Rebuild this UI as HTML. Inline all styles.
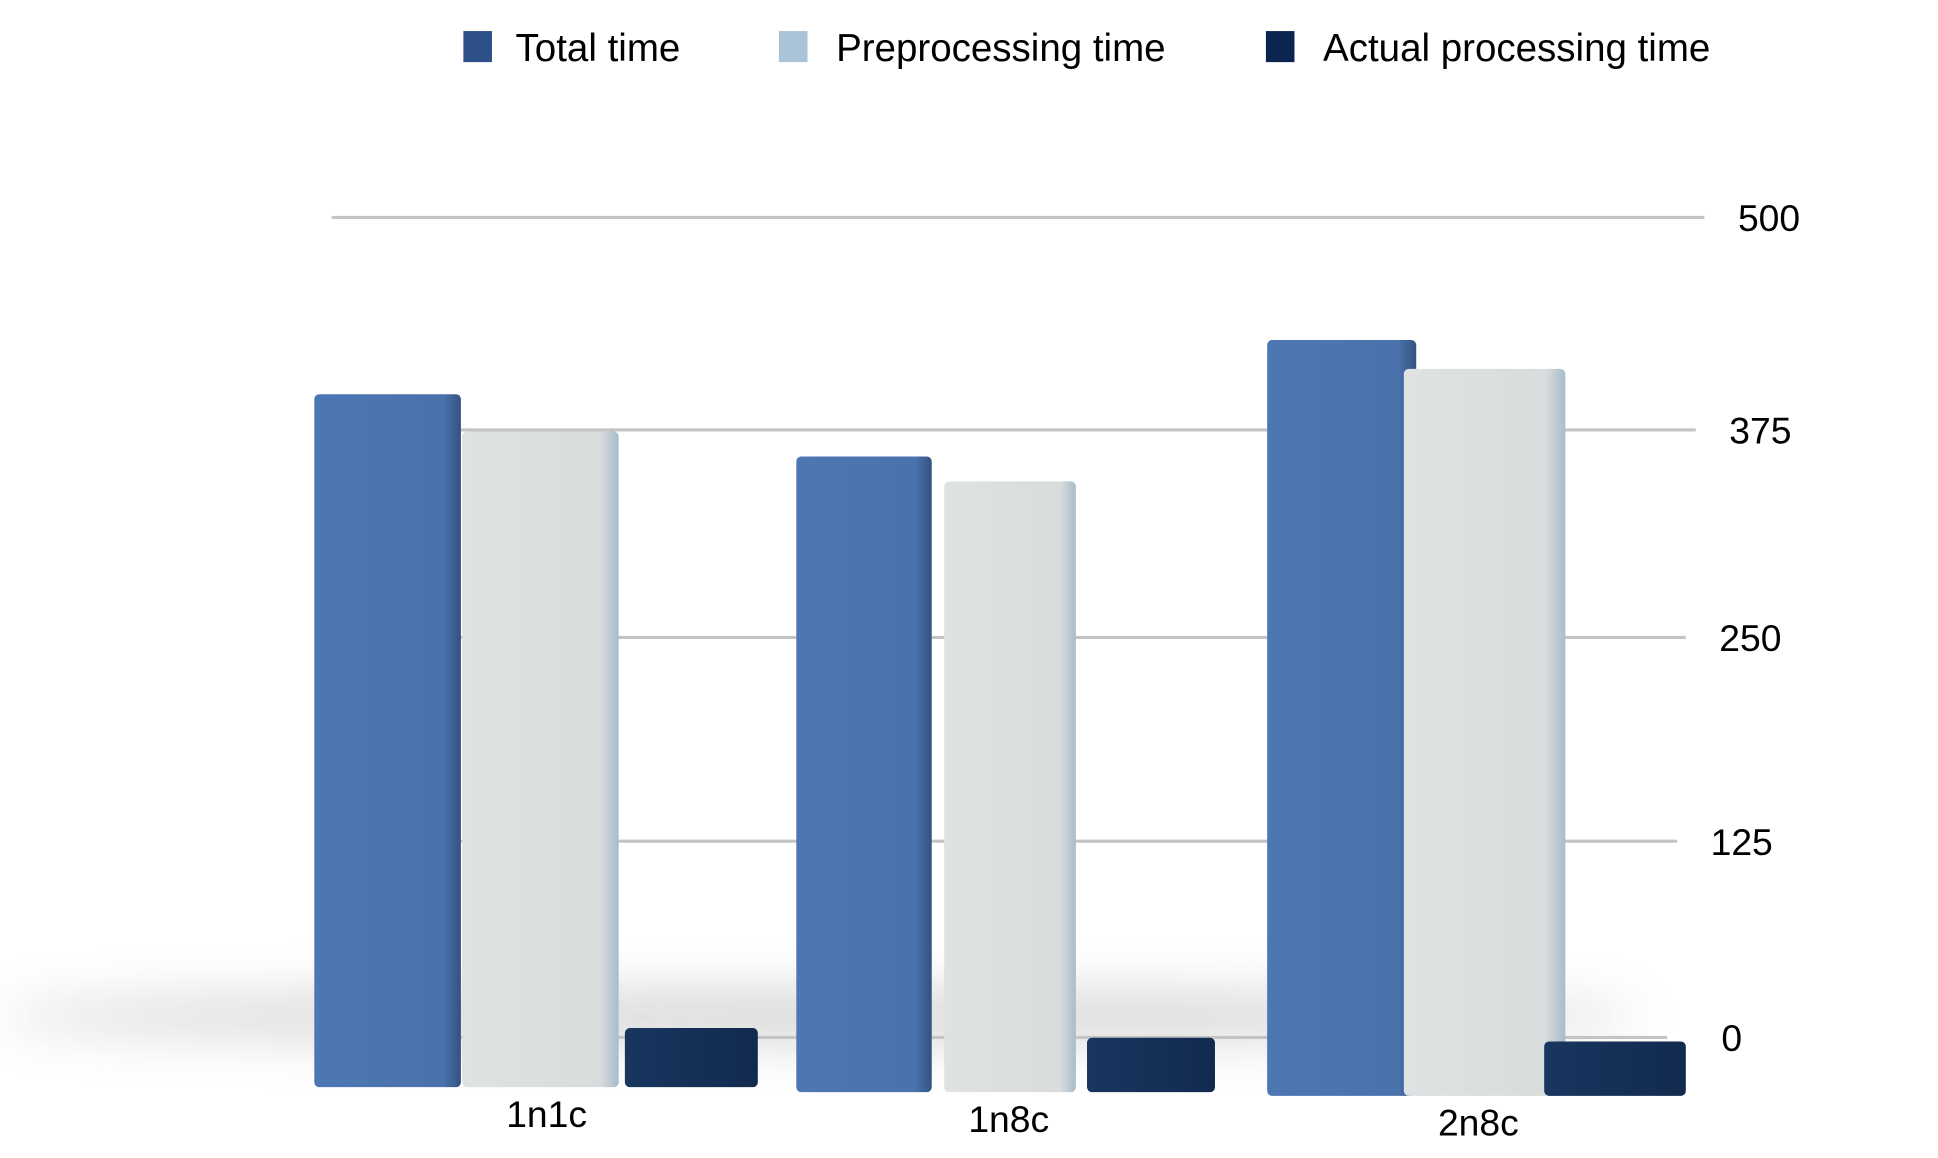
<!DOCTYPE html>
<html><head><meta charset="utf-8"><style>
html,body{margin:0;padding:0;background:#fff;}
svg{display:block;}
text{font-family:"Liberation Sans",Arial,sans-serif;fill:#000;}
</style></head><body>
<svg id="chart" width="1938" height="1158" viewBox="0 0 1560 932" preserveAspectRatio="none" xmlns="http://www.w3.org/2000/svg">
<defs>
<filter id="blur" x="-20%" y="-200%" width="140%" height="500%"><feGaussianBlur stdDeviation="20"/></filter>
<linearGradient id="gTot" x1="0" x2="1"><stop offset="0" stop-color="#4d77b3"/><stop offset="0.88" stop-color="#4a72ad"/><stop offset="1" stop-color="#34527f"/></linearGradient>
<linearGradient id="gPre" x1="0" x2="1"><stop offset="0" stop-color="#dfe2e3"/><stop offset="0.88" stop-color="#d9dcdd"/><stop offset="1" stop-color="#a7bccb"/></linearGradient>
<linearGradient id="gAct" x1="0" x2="1"><stop offset="0" stop-color="#18365f"/><stop offset="1" stop-color="#122a4e"/></linearGradient>
</defs>
<g>
<rect x="373" y="25" width="23" height="25" fill="#2e5088"/>
<text x="415" y="49" font-size="31">Total time</text>
<rect x="627" y="25" width="23" height="25" fill="#a9c3d8"/>
<text x="673" y="49" font-size="31">Preprocessing time</text>
<rect x="1019" y="25" width="23" height="25" fill="#0c2450"/>
<text x="1065" y="49" font-size="31">Actual processing time</text>
</g>
<ellipse cx="660" cy="818" rx="660" ry="22" fill="#aaa" opacity="0.45" filter="url(#blur)"/>
<g id="grid"></g>
<g id="bars"></g>
<g id="xlabels"></g>
</svg>
<script>
const categories = ["1n1c", "1n8c", "2n8c"];
const totalTime = [396, 362, 433];
const preprocessingTime = [374, 347, 416];
const actualTime = [6, 3, 3];
const yTicks = [0, 125, 250, 375, 500];

const NS = "http://www.w3.org/2000/svg";
const vMax = 500;
const tickPix = [835, 677, 513, 346, 175];
function yScale(v){
  const step = vMax / (tickPix.length - 1);
  let i = Math.min(Math.floor(v / step), tickPix.length - 2);
  if (i < 0) i = 0;
  const f = (v - i * step) / step;
  return tickPix[i] + f * (tickPix[i + 1] - tickPix[i]);
}
const gridRight = [1342, 1350, 1357, 1365, 1372];
const depth = 40;
const groups = [
  {base: 875, xs: [[253, 371], [372, 498], [503, 610]], lx: 440},
  {base: 879, xs: [[641, 750], [760, 866], [875, 978]], lx: 812},
  {base: 882, xs: [[1020, 1140], [1130, 1260], [1243, 1357]], lx: 1190}
];
const grid = document.getElementById('grid');
yTicks.forEach((t, i) => {
  const y = yScale(t);
  const ln = document.createElementNS(NS, 'line');
  
  
  ln.setAttribute('x1', 267); ln.setAttribute('x2', gridRight[i]);
  ln.setAttribute('y1', y); ln.setAttribute('y2', y);
  ln.setAttribute('stroke', '#c4c4c4'); ln.setAttribute('stroke-width', '2.5');
  grid.appendChild(ln);
  const tx = document.createElementNS(NS, 'text');
  
  
  tx.setAttribute('x', gridRight[i] + 52); tx.setAttribute('y', y + 11);
  tx.setAttribute('font-size', '30'); tx.setAttribute('text-anchor', 'middle');
  tx.textContent = t;
  grid.appendChild(tx);
});
const bars = document.getElementById('bars');
const series = [totalTime, preprocessingTime, actualTime];
const fills = ['url(#gTot)', 'url(#gPre)', 'url(#gAct)'];
const names = ['bar-total', 'bar-preprocessing', 'bar-actual'];
categories.forEach((c, ci) => {
  const g = groups[ci];
  series.forEach((s, si) => {
    const [xa, xb] = g.xs[si];
    const h = (yScale(0) - yScale(s[ci])) + depth;
    const top = g.base - h;
    const r = document.createElementNS(NS, 'rect');
    
    
    r.setAttribute('x', xa); r.setAttribute('y', top);
    r.setAttribute('width', xb - xa); r.setAttribute('height', h);
    r.setAttribute('rx', 4);
    r.setAttribute('fill', fills[si]);
    bars.appendChild(r);
  });
  const t = document.createElementNS(NS, 'text');
  
  
  t.setAttribute('x', g.lx); t.setAttribute('y', g.base + 32);
  t.setAttribute('font-size', '30'); t.setAttribute('text-anchor', 'middle');
  t.textContent = c;
  document.getElementById('xlabels').appendChild(t);
});
</script>
</body></html>
